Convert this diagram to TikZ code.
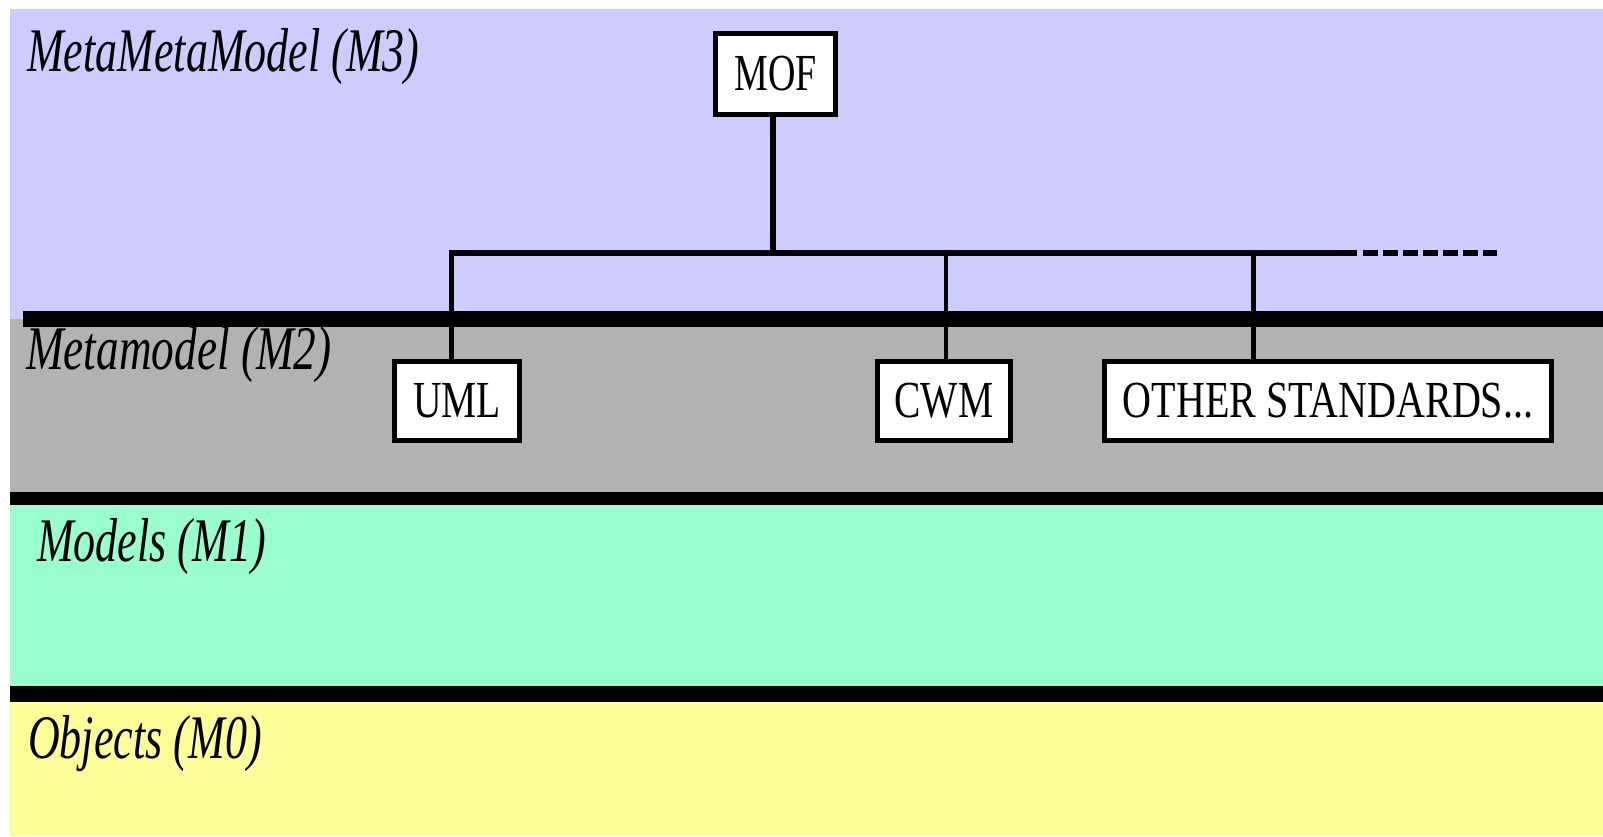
\documentclass[tikz,border=0pt]{standalone}
\usepackage{fontspec}
\setmainfont{Liberation Serif}
\definecolor{lav}{HTML}{CCCCFF}
\definecolor{metagray}{HTML}{B2B2B2}
\definecolor{modgreen}{HTML}{99FFCC}
\definecolor{objyellow}{HTML}{FFFF99}
\begin{document}
\begin{tikzpicture}[x=1pt,y=-1pt,
  layerlabel/.style={anchor=base west, inner sep=0pt, font=\fontsize{62}{62}\selectfont\itshape},
  stdbox/.style={draw=black, line width=5pt, fill=white, inner sep=0pt, minimum height=79pt, font=\fontsize{52}{52}\selectfont},
  barfill/.style={fill=black}]
\useasboundingbox (0,0) rectangle (1603,836);
\fill[white] (0,0) rectangle (1603,836);
% layers
\fill[lav] (10,9) rectangle (1603,319);
\fill[metagray] (10,319) rectangle (1603,492);
\fill[modgreen] (10,505) rectangle (1603,686);
\fill[objyellow] (10,702) rectangle (1603,836);
% separator bars
\fill[barfill] (23,311) rectangle (1603,327);
\fill[barfill] (10,492) rectangle (1603,505);
\fill[barfill] (10,686) rectangle (1603,702);
% layer labels
\node[layerlabel] (lM3) at (27,71) {\scalebox{0.71}[1]{MetaMetaModel (M3)}};
\node[layerlabel] (lM2) at (26,369) {\scalebox{0.73}[1]{Metamodel (M2)}};
\node[layerlabel] (lM1) at (37,561) {\scalebox{0.71}[1]{Models (M1)}};
\node[layerlabel] (lM0) at (28,758) {\scalebox{0.71}[1]{Objects (M0)}};
% bus coordinates
\coordinate (bMOF) at (773,253);
\coordinate (bU) at (451.5,253);
\coordinate (bC) at (946,253);
\coordinate (bO) at (1253,253);
\coordinate (bEnd) at (1357,253);
\coordinate (bDash) at (1497,253);
% boxes
\node[stdbox, minimum width=120pt, minimum height=81pt] (mof) at (775.5,74) {\scalebox{0.73}[1]{MOF}};
\node[stdbox, minimum width=125pt] (uml) at (457,401) {\scalebox{0.76}[1]{UML}};
\node[stdbox, minimum width=133pt] (cwm) at (944,401) {\scalebox{0.76}[1]{CWM}};
\node[stdbox, minimum width=447pt] (other) at (1328,401) {\scalebox{0.77}[1]{OTHER STANDARDS...}};
% connectors
\draw[line width=6pt] (mof.south -| bMOF) -- (bMOF);
\draw[line width=6pt] (bU) -- (bEnd);
\draw[line width=6pt, dash pattern=on 15pt off 5pt] (bEnd) ++(6,0) coordinate (bDs) (bDs) -- (bDash);
\draw[line width=5pt] (bU) ++(0,-3) coordinate (bUt) (bUt) -- (bU |- uml.north);
\draw[line width=3.5pt] (bC) -- (bC |- cwm.north);
\draw[line width=5pt] (bO) -- (bO |- other.north);
\end{tikzpicture}
\end{document}
